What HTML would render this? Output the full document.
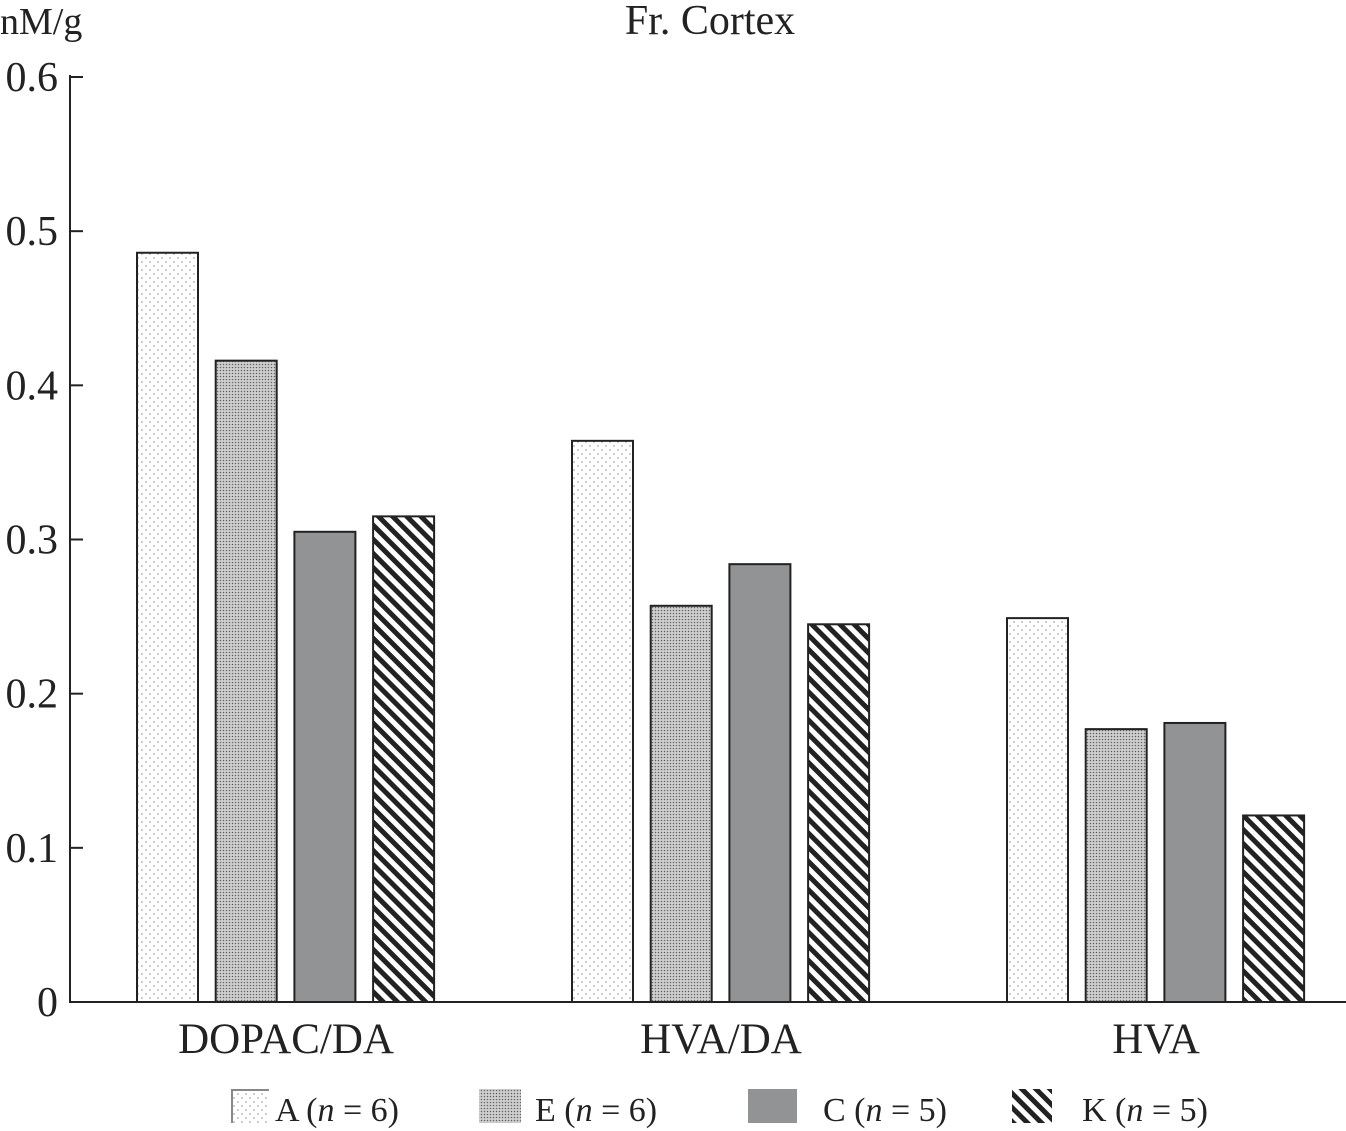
<!DOCTYPE html>
<html><head><meta charset="utf-8"><style>
body{margin:0;background:#fff;}
svg{display:block;font-family:"Liberation Serif",serif;}
</style></head><body>
<svg id="chart" width="1346" height="1131">
<defs>
<pattern id="pA" width="8" height="8" patternUnits="userSpaceOnUse"><rect width="8" height="8" fill="#fff"/><circle cx="2" cy="2" r="0.9" fill="#aaa"/><circle cx="6" cy="6" r="0.9" fill="#aaa"/></pattern>
<pattern id="pE" width="3" height="3" patternUnits="userSpaceOnUse"><rect width="3" height="3" fill="#d0d0d0"/><circle cx="1.5" cy="1.5" r="0.8" fill="#666"/></pattern>
<pattern id="pK" width="10" height="10" patternUnits="userSpaceOnUse" patternTransform="rotate(-45)"><rect width="10" height="10" fill="#fff"/><rect width="5" height="10" fill="#222"/></pattern>
</defs>
<g id="axes"></g>
<g id="bars"></g>
<g id="legend"></g>
</svg>
<script>
const categories=["DOPAC/DA","HVA/DA","HVA"];
const seriesNames=["A","E","C","K"];
const seriesN=[6,6,5,5];
const valuesA=[0.486,0.364,0.249];
const valuesE=[0.416,0.257,0.177];
const valuesC=[0.305,0.284,0.181];
const valuesK=[0.315,0.245,0.121];
const yTicks=[0,0.1,0.2,0.3,0.4,0.5,0.6];
const yTickLabels=["0","0.1","0.2","0.3","0.4","0.5","0.6"];

const NS="http://www.w3.org/2000/svg";
const fills=["url(#pA)","url(#pE)","#929395","url(#pK)"];
const series=[valuesA,valuesE,valuesC,valuesK];
const y=v=>1002-v/0.6*925;
const groupX=i=>137+i*435;
function mk(tag,attrs,parent,text){const e=document.createElementNS(NS,tag);for(const k in attrs)e.setAttribute(k,attrs[k]);if(text!==undefined)e.textContent=text;parent.appendChild(e);return e;}
const axes=document.getElementById('axes'),bars=document.getElementById('bars'),legend=document.getElementById('legend');

let t=mk('line',{x1:70,y1:75,x2:70,y2:1002,stroke:'#222','stroke-width':2},axes);


t=mk('line',{x1:69,y1:1002,x2:1346,y2:1002,stroke:'#222','stroke-width':2},axes);


yTicks.forEach((v,i)=>{
  let l=mk('line',{x1:70,y1:y(v),x2:83,y2:y(v),stroke:'#222','stroke-width':2},axes);
  
  
  let tx=mk('text',{x:58,y:y(v)+14,'text-anchor':'end','font-size':42,fill:'#222'},axes,yTickLabels[i]);
  
  
});
t=mk('text',{x:0,y:34,'font-size':38,fill:'#222'},axes,'nM/g');


t=mk('text',{x:710,y:34,'text-anchor':'middle','font-size':42,fill:'#222'},axes,'Fr. Cortex');



categories.forEach((c,gi)=>{
  series.forEach((s,si)=>{
    const x=groupX(gi)+si*78.7, top=y(s[gi]);
    let r=mk('rect',{x:x,y:top,width:61,height:1002-top,fill:fills[si],stroke:'#222','stroke-width':2},bars);
    
    
  });
  let tx=mk('text',{x:groupX(gi)+149,y:1053,'text-anchor':'middle','font-size':43,fill:'#222'},bars,c);
  
  
});

const lx=[232,479,748,1012], lw=[37,42,49,40], ltx=[275,535,823,1082];
seriesNames.forEach((n,i)=>{
  let r=mk('rect',{x:lx[i],y:1089,width:lw[i],height:34,fill:fills[i]},legend);
  
  
  if(i==0){mk('path',{d:`M${lx[i]} 1123 V1090 H${lx[i]+lw[i]}`,stroke:'#888',fill:'none','stroke-width':2},legend);}
  let tx=mk('text',{x:ltx[i],y:1121,'font-size':34,fill:'#222'},legend);
  
  
  tx.appendChild(document.createTextNode(n+' ('));
  mk('tspan',{'font-style':'italic'},tx,'n');
  tx.appendChild(document.createTextNode(' = '+seriesN[i]+')'));
});
</script>
</body></html>
